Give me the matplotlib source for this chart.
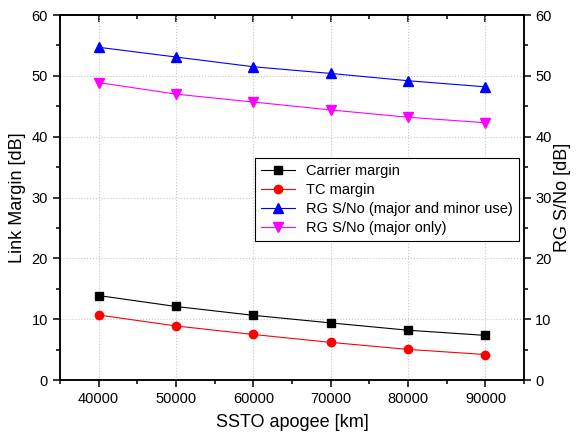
import matplotlib.pyplot as plt
from matplotlib.ticker import MultipleLocator

plt.rcParams["font.family"] = ["Liberation Sans", "DejaVu Sans"]

# data
apogee_km = [40000, 50000, 60000, 70000, 80000, 90000]
carrier_margin = [13.9, 12.1, 10.65, 9.4, 8.2, 7.35]
tc_margin = [10.7, 8.9, 7.5, 6.2, 5.05, 4.2]
rg_major_minor = [54.7, 53.1, 51.5, 50.4, 49.2, 48.2]
rg_major_only = [48.9, 47.0, 45.7, 44.4, 43.2, 42.3]

x_ticks = [40000, 50000, 60000, 70000, 80000, 90000]
y_ticks = [0, 10, 20, 30, 40, 50, 60]


def style_axis(ax):
    for spine in ax.spines.values():
        spine.set_linewidth(1.1)


def main():
    fig = plt.figure(figsize=(5.76, 4.42), dpi=100)
    ax = fig.add_axes([0.104, 0.140, 0.806, 0.826])

    ax.plot(apogee_km, carrier_margin, color="black", lw=0.8, marker="s", ms=5.5, label="Carrier margin")
    ax.plot(apogee_km, tc_margin, color="red", lw=0.8, marker="o", ms=6, label="TC margin")
    ax.plot(apogee_km, rg_major_minor, color="blue", lw=0.8, marker="^", ms=7,
            label="RG S/No (major and minor use)")
    ax.plot(apogee_km, rg_major_only, color="magenta", lw=0.8, marker="v", ms=7,
            label="RG S/No (major only)")

    ax.set_xlim(35000, 95000)
    ax.set_ylim(0, 60)
    ax.set_xticks(x_ticks)
    ax.set_yticks(y_ticks)
    ax.xaxis.set_minor_locator(MultipleLocator(5000))
    ax.yaxis.set_minor_locator(MultipleLocator(5))
    ax.grid(True, which="major", color="#c8c8c8", linestyle=":", linewidth=0.8)
    ax.tick_params(which="major", direction="out", length=5, width=1.1, labelsize=10.5)
    ax.tick_params(which="minor", direction="out", length=3, width=1.1)
    ax.set_xlabel("SSTO apogee [km]", fontsize=13, labelpad=6)
    ax.set_ylabel("Link Margin [dB]", fontsize=13, labelpad=4)
    style_axis(ax)

    # right axis, same scale
    ax2 = ax.twinx()
    ax2.set_ylim(0, 60)
    ax2.set_yticks(y_ticks)
    ax2.yaxis.set_minor_locator(MultipleLocator(5))
    ax2.tick_params(which="major", direction="out", length=5, width=1.1, labelsize=10.5, pad=3)
    ax2.tick_params(which="minor", direction="out", length=3, width=1.1)
    ax2.set_ylabel("RG S/No [dB]", fontsize=13, labelpad=2)
    style_axis(ax2)

    # top ticks point inward
    top = ax.secondary_xaxis("top")
    top.set_xticks(x_ticks)
    top.xaxis.set_minor_locator(MultipleLocator(5000))
    top.tick_params(which="major", direction="in", length=5, width=1.1, labeltop=False)
    top.tick_params(which="minor", direction="in", length=3, width=1.1)
    top.spines["top"].set_linewidth(1.1)

    leg = ax.legend(loc="upper right", bbox_to_anchor=(0.989, 0.608), fontsize=10.5,
                    fancybox=False, framealpha=1, edgecolor="black", handlelength=2.3,
                    borderpad=0.4, labelspacing=0.35, borderaxespad=0)
    leg.get_frame().set_linewidth(0.8)

    fig.savefig("out.png", dpi=100)
    plt.close(fig)


if __name__ == "__main__":
    main()
